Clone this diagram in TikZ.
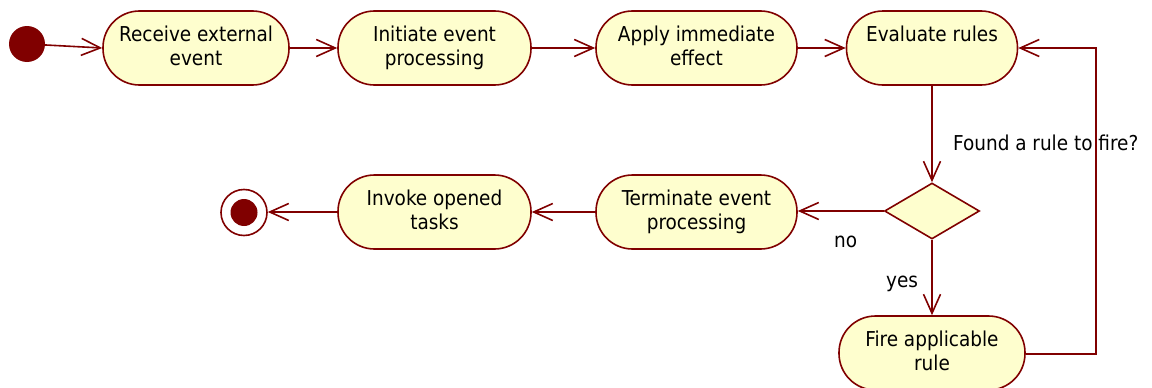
\documentclass[tikz,border=0pt]{standalone}
\usepackage{fontspec}
\setmainfont{DejaVu Sans Condensed}
\usetikzlibrary{arrows.meta,shapes.geometric}
\definecolor{umlline}{HTML}{800000}
\definecolor{umlfill}{HTML}{FEFECE}
% fixed line height / depth so every two-line label sits the same way
\newcommand{\lineup}{\rule{0pt}{16pt}}
\newcommand{\linedown}{\rule[-6pt]{0pt}{6pt}}
\tikzset{
  activity/.style={draw=umlline, fill=umlfill, line width=1.6pt,
    rounded corners=36.5pt, minimum height=74pt, inner sep=0pt,
    align=center, font=\fontsize{20.5}{24}\selectfont},
  choice/.style={diamond, draw=umlline, fill=umlfill, line width=1.6pt,
    minimum width=95pt, minimum height=56pt, inner sep=0pt},
  flow/.style={draw=umlline, line width=1.6pt,
    -{Straight Barb[length=19pt,width=17pt,line width=1.6pt]}},
  lbl/.style={font=\fontsize{20.5}{24}\selectfont, inner sep=0pt, anchor=base west}
}
\begin{document}
\begin{tikzpicture}[x=1pt,y=-1pt]
\useasboundingbox (0,0) rectangle (1152,388);
\clip (0,0) rectangle (1152,388);

% start / end markers
\node[circle, fill=umlline, minimum size=36pt, inner sep=0pt] (start) at (27,44) {};
\node[circle, draw=umlline, fill=white, line width=1.6pt, minimum size=46pt, inner sep=0pt] (stop) at (244,212.5) {};
\node[circle, fill=umlline, minimum size=27pt, inner sep=0pt] (stopdot) at (244,212.5) {};

% activities, top row
\node[activity, minimum width=186pt] (receive)   at (196,48)   {\lineup Receive external\\event\linedown};
\node[activity, minimum width=193pt] (initiate)  at (434.5,48) {\lineup Initiate event\\processing\linedown};
\node[activity, minimum width=201pt] (apply)     at (696.5,48) {\lineup Apply immediate\\effect\linedown};
\node[activity, minimum width=171pt] (evaluate)  at (932,48)   {\lineup Evaluate rules\\\linedown};

% decision and bottom row
\node[choice] (found) at (932,211) {};
\node[activity, minimum width=201pt] (terminate) at (696.5,212) {\lineup Terminate event\\processing\linedown};
\node[activity, minimum width=193pt] (invoke)    at (434.5,212) {\lineup Invoke opened\\tasks\linedown};
\node[activity, minimum width=186pt] (fire)      at (932,353)   {\lineup Fire applicable\\rule\linedown};

% labels
\node[lbl] (qlabel)   at (953,150) {Found a rule to fire?};
\node[lbl] (nolabel)  at (834,247) {no};
\node[lbl] (yeslabel) at (886,287) {yes};

% control flow
\draw[flow] (start) -- (receive.west);
\draw[flow] (receive) -- (initiate);
\draw[flow] (initiate) -- (apply);
\draw[flow] (apply) -- (evaluate);
\draw[flow] (evaluate) -- (found);
\draw[flow] (found.west) -- (found.west -| terminate.east);
\draw[flow] (terminate) -- (invoke);
\draw[flow] (invoke.west) -- (invoke.west -| stop.east);
\draw[flow] (found) -- (fire);
\coordinate (loopcorner) at (1096,354);
\draw[flow] (fire.east |- loopcorner) -- (loopcorner) |- (evaluate.east);
\end{tikzpicture}
\end{document}
